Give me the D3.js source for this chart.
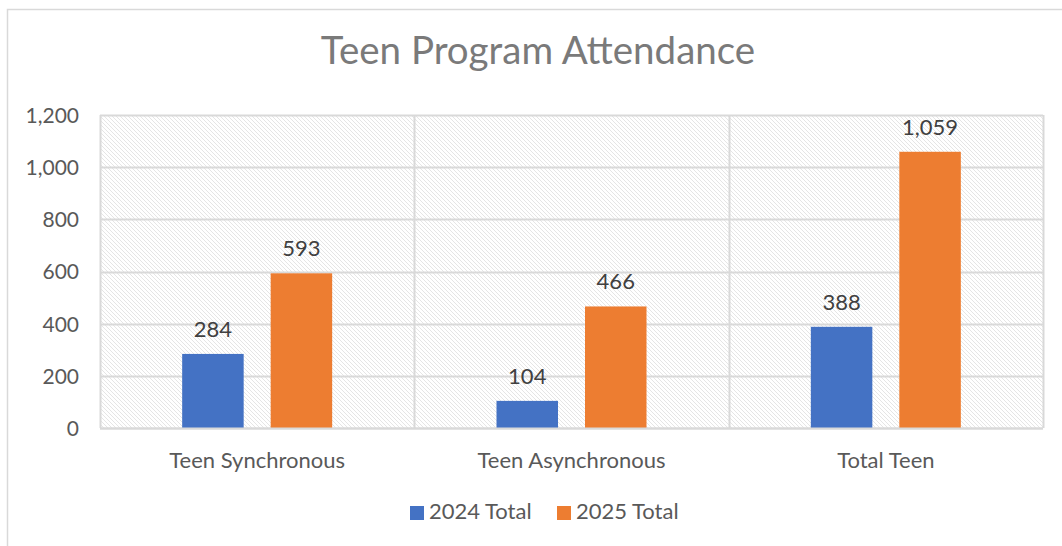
<!DOCTYPE html>
<html>
<head>
<meta charset="utf-8">
<script src="https://cdn.jsdelivr.net/npm/d3@7"></script>
<style>
  html, body { margin: 0; padding: 0; background: #fff; }
  svg { display: block; }
  text { font-family: Lato, "Open Sans", sans-serif; }
</style>
</head>
<body>
<svg id="chart" width="1062" height="546"></svg>
<script>
const title = "Teen Program Attendance";
const categories = ["Teen Synchronous", "Teen Asynchronous", "Total Teen"];
const seriesNames = ["2024 Total", "2025 Total"];
const values2024 = [284, 104, 388];
const values2025 = [593, 466, 1059];
const yTicks = [0, 200, 400, 600, 800, 1000, 1200];
const colors = ["#4472C4", "#ED7D31"];

const seriesValues = [values2024, values2025];
const W = 1062, H = 546;
const plot = { left: 100, top: 115, right: 1043, bottom: 428 };

const svg = d3.select("#chart");

// hatch pattern
const defs = svg.append("defs");
const pat = defs.append("pattern")
  .attr("id", "hatch").attr("patternUnits", "userSpaceOnUse")
  .attr("width", 4).attr("height", 4);
pat.append("rect").attr("width", 4).attr("height", 4).attr("fill", "#fff");
pat.append("path")
  .attr("d", "M-1,-1 L5,5 M-1,3 L1,5 M3,-1 L5,1")
  .attr("stroke", "#e2e2e2").attr("stroke-width", 0.9).attr("fill", "none");

// outer chart border
svg.append("rect")
  .attr("x", 7.5).attr("y", 9.5).attr("width", W + 20).attr("height", H + 20)
  .attr("fill", "#fff").attr("stroke", "#d9d9d9").attr("stroke-width", 1.5);

const x0 = d3.scaleBand().domain(categories).range([plot.left, plot.right]).padding(0);
const y = d3.scaleLinear().domain([0, 1200]).range([plot.bottom, plot.top]);

// plot background
svg.append("rect")
  .attr("x", plot.left).attr("y", plot.top)
  .attr("width", plot.right - plot.left).attr("height", plot.bottom - plot.top)
  .attr("fill", "url(#hatch)");

// horizontal gridlines
svg.append("g").selectAll("line").data(yTicks).join("line")
  .attr("x1", plot.left).attr("x2", plot.right)
  .attr("y1", d => Math.round(y(d)) + 0.5).attr("y2", d => Math.round(y(d)) + 0.5)
  .attr("stroke", "#d9d9d9").attr("stroke-width", 2);

// vertical gridlines at category boundaries
const vLines = categories.map(c => x0(c)).concat([plot.right]);
svg.append("g").selectAll("line").data(vLines).join("line")
  .attr("x1", d => Math.round(d) + 0.5).attr("x2", d => Math.round(d) + 0.5)
  .attr("y1", plot.top).attr("y2", plot.bottom)
  .attr("stroke", "#d9d9d9").attr("stroke-width", 2);

// y axis labels
const yAxis = d3.axisLeft(y).tickValues(yTicks).tickSize(0).tickPadding(0)
  .tickFormat(d3.format(","));
const yg = svg.append("g").attr("transform", `translate(${79},0)`).call(yAxis);
yg.select(".domain").remove();
yg.selectAll("text").attr("font-size", 21).attr("fill", "#595959")
  .attr("font-family", "Lato, sans-serif").attr("dy", "0.35em");

// x axis labels
const xAxis = d3.axisBottom(x0).tickSize(0).tickPadding(0);
const xg = svg.append("g").attr("transform", `translate(0,${468})`).call(xAxis);
xg.select(".domain").remove();
xg.selectAll("text").attr("font-size", 22).attr("fill", "#595959")
  .attr("font-family", "Lato, sans-serif").attr("dy", 0);

// bars
const barW = 61.5, gap = 27;
const x1 = d3.scaleBand().domain(seriesNames)
  .range([-(barW + gap / 2), barW + gap / 2]).paddingInner(gap / (barW + gap)).paddingOuter(0);

const groups = svg.append("g").selectAll("g").data(categories).join("g")
  .attr("transform", c => `translate(${x0(c) + x0.bandwidth() / 2},0)`);

groups.selectAll("rect").data((c, i) => seriesNames.map((s, j) => ({ s, v: seriesValues[j][i], j })))
  .join("rect")
  .attr("x", d => x1(d.s)).attr("width", x1.bandwidth())
  .attr("y", d => y(d.v)).attr("height", d => y(0) - y(d.v))
  .attr("fill", d => colors[d.j]);

groups.selectAll("text.lbl").data((c, i) => seriesNames.map((s, j) => ({ s, v: seriesValues[j][i], j })))
  .join("text").attr("class", "lbl")
  .attr("x", d => x1(d.s) + x1.bandwidth() / 2)
  .attr("y", d => y(d.v) - 17)
  .attr("text-anchor", "middle")
  .attr("font-size", 22).attr("fill", "#404040")
  .text(d => d3.format(",")(d.v));

// axis line
svg.append("line")
  .attr("x1", plot.left).attr("x2", plot.right)
  .attr("y1", plot.bottom + 0.5).attr("y2", plot.bottom + 0.5)
  .attr("stroke", "#d9d9d9").attr("stroke-width", 2);

// title
svg.append("text").attr("x", 538).attr("y", 64).attr("text-anchor", "middle")
  .attr("font-size", 38.5).attr("fill", "#7a7a7a").attr("font-weight", 400)
  .text(title);

// legend
const legendX = [410, 557];
const lg = svg.append("g").selectAll("g").data(seriesNames).join("g")
  .attr("transform", (d, i) => `translate(${legendX[i]},506)`);
lg.append("rect").attr("width", 14).attr("height", 14).attr("fill", (d, i) => colors[i]);
lg.append("text").attr("x", 19).attr("y", 13).attr("font-size", 22).attr("fill", "#595959")
  .text(d => d);
</script>
</body>
</html>
